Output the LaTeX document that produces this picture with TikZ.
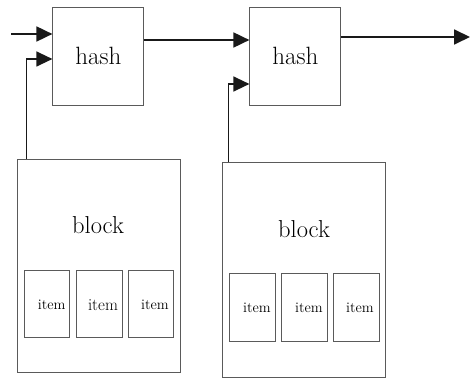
\documentclass[tikz,border=0pt]{standalone}
\usetikzlibrary{arrows.meta}
\definecolor{edge}{RGB}{90,90,90}
\definecolor{ink}{RGB}{25,25,25}
\tikzset{
  frame/.style={draw=edge, line width=1pt, inner sep=0pt, rectangle},
  hashbox/.style={frame, minimum width=91pt, minimum height=98pt, text=black, font=\fontsize{25}{27}\selectfont},
  blockbox/.style={frame, minimum width=162.6pt},
  itembox/.style={frame, minimum width=45.5pt, minimum height=67.7pt},
  itemtxt/.style={inner sep=0pt, text=black, font=\fontsize{14.5}{16}\selectfont},
  bigtxt/.style={inner sep=0pt, text=black, font=\fontsize{24.5}{27}\selectfont},
  feed/.style={draw=ink, line width=1.8pt, -{Triangle[length=16pt,width=15pt]}},
  thinfeed/.style={feed, line width=1.3pt}
}
\begin{document}
\begin{tikzpicture}[x=1pt,y=-1pt]
\useasboundingbox (0,0) rectangle (470,379);

% hash stages
\node[hashbox] (hash1) at (98.4,56.3) {hash};
\node[hashbox] (hash2) at (295.4,56.3) {hash};

% first block
\node[blockbox, minimum height=213.4pt] (block1) at (99,266) {};
\node[bigtxt] (btxt1) at (98,225) {block};
\node[itembox] (i11) at (47.2,303.9) {};
\node[itembox] (i12) at (99.4,303.9) {};
\node[itembox] (i13) at (151,303.9) {};
\node[itemtxt] (t11) at (51.7,305) {item};
\node[itemtxt, font=\fontsize{16.8}{18}\selectfont] (t12) at (103,305) {item};
\node[itemtxt] (t13) at (155,305) {item};

% second block
\node[blockbox, minimum height=214.6pt] (block2) at (304,270) {};
\node[bigtxt] (btxt2) at (304,229) {block};
\node[itembox] (i21) at (252.7,307.2) {};
\node[itembox] (i22) at (304.5,307.2) {};
\node[itembox] (i23) at (356.4,307.2) {};
\node[itemtxt] (t21) at (257,308) {item};
\node[itemtxt] (t22) at (309,308) {item};
\node[itemtxt] (t23) at (360,308) {item};

% chain of hashes
\coordinate (src) at (11,34);
\coordinate (dst) at (470,37);
\draw[feed] (src) -- (src -| hash1.west);
\draw[feed] (hash1.east |- 0,40) -- (hash2.west |- 0,40);
\draw[feed] (hash2.east |- dst) -- (dst);

% blocks feeding their hash
\draw[thinfeed] ([xshift=9pt]block1.north west) |- (hash1.west |- 0,59);
\draw[thinfeed] ([xshift=6.3pt]block2.north west) |- (hash2.west |- 0,84);
\end{tikzpicture}
\end{document}
